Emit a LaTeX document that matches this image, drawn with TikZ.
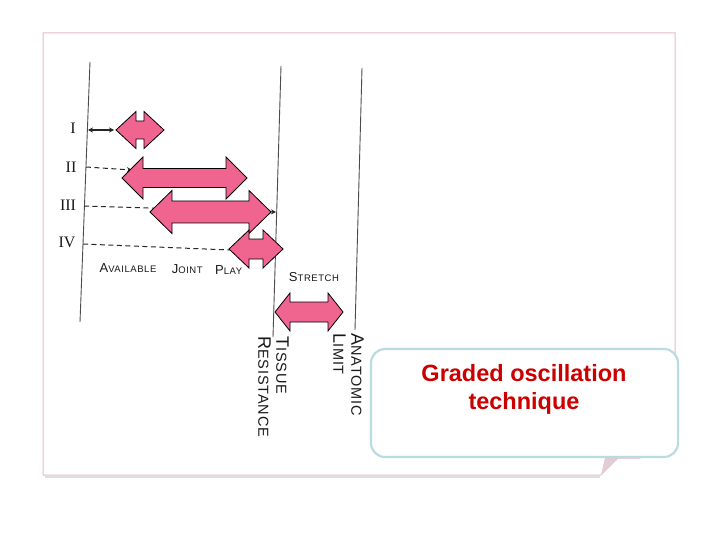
\documentclass[tikz,border=0pt]{standalone}
\usepackage{fontspec}
\setmainfont{Liberation Serif}
\newfontfamily\handfont{Liberation Sans}[LetterSpace=6]
\newfontfamily\calloutfont{Liberation Sans}
\usepackage{tikz}
\usetikzlibrary{positioning,arrows.meta,calc}
\usepackage{xcolor}
\definecolor{jointpink}{RGB}{240,100,144}
\definecolor{pageedge}{RGB}{228,186,204}
\definecolor{calloutedge}{RGB}{186,220,224}
\definecolor{calloutred}{RGB}{204,0,0}
\newcommand\capL[1]{{\fontsize{13}{13}\selectfont #1}}
\newcommand\capR[1]{{\fontsize{18}{18}\selectfont #1}}

\begin{document}
\begin{tikzpicture}[
  x=1pt, y=-1pt,
  page/.style={draw=pageedge, fill=white, line width=1pt},
  limit/.style={draw=gray!60!black, line width=0.9pt},
  grade/.style={font=\fontsize{16}{16}\selectfont, text=gray!20!black, inner sep=1pt},
  hand/.style={font=\handfont\fontsize{9.5}{11}\selectfont, text=gray!20!black, inner sep=1pt},
  handrot/.style={font=\handfont\fontsize{14.5}{18}\selectfont, text=gray!20!black, inner sep=1pt, align=left, rotate=-90},
  reach/.style={dashed, dash pattern=on 5pt off 3.5pt, line width=1pt, black!85},
  oscil/.style={fill=jointpink, draw=black, line width=0.8pt, line join=miter},
  callout/.style={draw=calloutedge, fill=white, line width=2.2pt, rounded corners=14pt},
  node distance=8pt
]
\useasboundingbox (0,0) rectangle (720,540);
% ---- page with folded corner ----
\draw[gray!25, line width=1.5pt] (45,477) -- (600,477);
\path[page] (43,33) -- (675,33) -- (675,430) -- (640,458) -- (618,458) -- (601,475) -- (43,475) -- cycle;
\fill[gray!25!pageedge!60] (605,458) -- (618,458) -- (601,475) -- cycle;
% ---- limits of motion ----
\coordinate (avT) at (90,62);   \coordinate (avB) at (80,322);
\coordinate (tiT) at (281,66);  \coordinate (tiB) at (273,337);
\coordinate (anT) at (362,68);  \coordinate (anB) at (355,330);
\draw[limit] (avT) -- (avB);
\draw[limit] (tiT) -- (tiB);
\draw[limit] (anT) -- (anB);
% ---- grades ----
\node[grade] (g1) at (73,128) {I};
\node[grade] (g2) at (71,167) {II};
\node[grade] (g3) at (68,205) {III};
\node[grade] (g4) at (67,242) {IV};
% ---- reach of each grade ----
\coordinate (r1a) at (88,130);  \coordinate (r1b) at (114,130);
\coordinate (r2a) at (86,167);  \coordinate (r2b) at (132,170);
\coordinate (r3a) at (84,206);  \coordinate (r3b) at (276,212);
\coordinate (r4a) at (83,244);  \coordinate (r4b) at (230,250);
\draw[{Stealth[length=5pt,width=5pt]}-{Stealth[length=5pt,width=5pt]}, line width=1.2pt, black!85] (r1a) -- (r1b);
\draw[reach, -{Stealth[length=5pt,width=5pt]}] (r2a) -- (r2b);
\draw[reach, -{Stealth[length=5pt,width=5pt]}] (r3a) -- (r3b);
\draw[reach] (r4a) -- (r4b);
% ---- oscillations (left tip / right tip / centre / head / head half / shaft half) ----
\foreach \xl/\xr/\yc/\hd/\hw/\sw in {116/164/130/20/18.5/9, 122/247/178/21/21/9.5,
    150/271/212/22/21.5/11, 229/283/249/20/19/10, 275/343/312/15/19/10}
  \path[oscil] (\xl,\yc) -- (\xl+\hd,\yc-\hw) -- (\xl+\hd,\yc-\sw) -- (\xr-\hd,\yc-\sw)
    -- (\xr-\hd,\yc-\hw) -- (\xr,\yc) -- (\xr-\hd,\yc+\hw) -- (\xr-\hd,\yc+\sw)
    -- (\xl+\hd,\yc+\sw) -- (\xl+\hd,\yc+\hw) -- cycle;
% ---- hand lettering ----
\node[hand] (avail) at (128,268) {\capL{A}VAILABLE};
\node[hand, right=13pt of avail, yshift=-1pt] (joint) {\capL{J}OINT};
\node[hand, right=10pt of joint, yshift=-1pt] (play) {\capL{P}LAY};
\node[hand] (stretch) at (314,277) {\capL{S}TRETCH};
\node[handrot, anchor=north west] (tissue) at (290,335) {\capR{T}ISSUE\\\capR{R}ESISTANCE};
\node[handrot, anchor=north west] (anat) at (365,332) {\capR{A}NATOMIC\\\capR{L}IMIT};
% ---- caption ----
\node[callout, minimum width=307pt, minimum height=108pt] (box) at (524.5,403) {};
\node[font=\calloutfont\bfseries\fontsize{23.5}{28}\selectfont, text=calloutred, align=center, anchor=north]
  (title) at (524,361) {Graded oscillation\\technique};
\end{tikzpicture}
\end{document}
